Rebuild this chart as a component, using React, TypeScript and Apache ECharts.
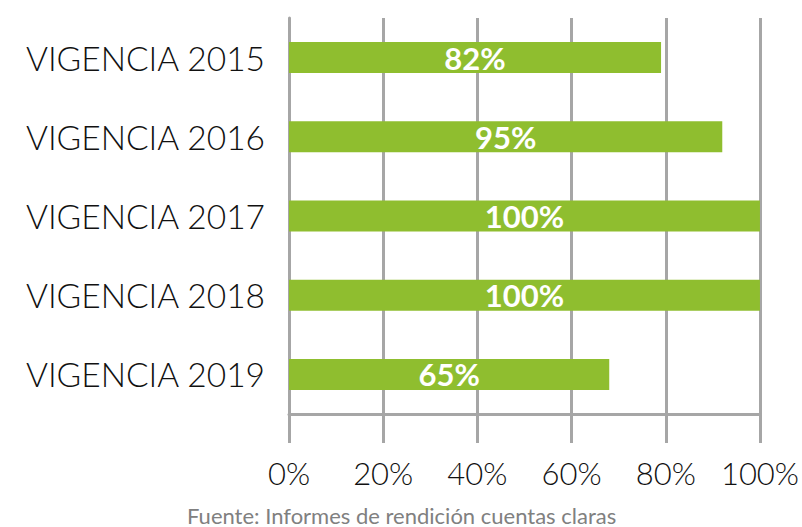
import React, { useEffect, useRef } from "react";
import * as echarts from "echarts";

const categories = ["VIGENCIA 2015", "VIGENCIA 2016", "VIGENCIA 2017", "VIGENCIA 2018", "VIGENCIA 2019"];
const barValues = [79, 92, 100, 100, 68];
const barLabels = ["82%", "95%", "100%", "100%", "65%"];
const sourceText = "Fuente: Informes de rendición cuentas claras";

export default function App() {
  const ref = useRef<HTMLDivElement>(null);
  useEffect(() => {
    if (!ref.current) return;
    const chart = echarts.init(ref.current, null, { renderer: "svg" });
    const grey = "#a6a6a6";
    chart.setOption({
      animation: false,
      backgroundColor: "#ffffff",
      grid: { left: 289, right: 36, top: 18, bottom: 113, containLabel: false },
      xAxis: {
        type: "value",
        min: 0,
        max: 100,
        interval: 20,
        axisLine: { show: true, lineStyle: { color: grey, width: 3 } },
        axisTick: { show: true, length: 29, lineStyle: { color: grey, width: 3 } },
        splitLine: { show: true, lineStyle: { color: grey, width: 3 } },
        axisLabel: {
          show: true,
          margin: 43,
          formatter: (v: number) => `${v}%`,
          fontFamily: "Lato",
          fontWeight: 300,
          fontSize: 31,
          color: "#111111",
        },
      },
      yAxis: {
        type: "category",
        data: categories,
        inverse: true,
        axisLine: { show: true, lineStyle: { color: grey, width: 3 } },
        axisTick: { show: false },
        splitLine: { show: false },
        axisLabel: {
          margin: 24,
          fontFamily: "Lato",
          fontWeight: 300,
          fontSize: 33.5,
          color: "#111111",
        },
      },
      series: [
        {
          type: "bar",
          data: barValues,
          barWidth: 31,
          itemStyle: { color: "#8fbe2f" },
          label: {
            show: true,
            position: "inside",
            formatter: (p: any) => barLabels[p.dataIndex],
            color: "#ffffff",
            fontFamily: "Lato",
            fontWeight: "bold",
            fontSize: 31,
          },
        },
      ],
      graphic: [
        {
          type: "text",
          left: 187,
          top: 504,
          style: {
            text: sourceText,
            fontFamily: "Lato",
            fontSize: 22,
            fill: "#808080",
          },
        },
      ],
    });
    return () => chart.dispose();
  }, []);
  return <div ref={ref} style={{ width: 802, height: 527, position: "absolute", left: 0, top: 0 }} />;
}
